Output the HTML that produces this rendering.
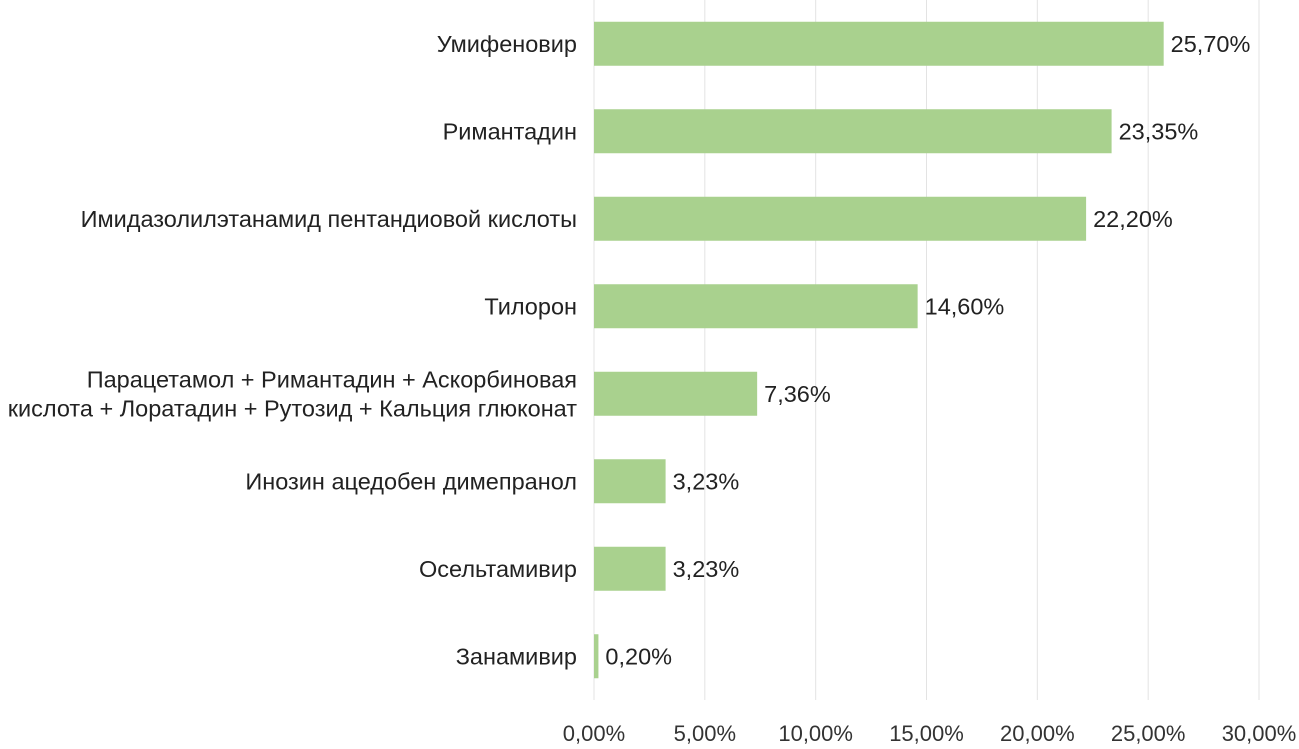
<!DOCTYPE html>
<html><head><meta charset="utf-8"><style>
html,body{margin:0;padding:0;background:#fff;}
svg{display:block;font-family:"Liberation Sans",sans-serif;}
</style></head><body>
<svg id="chart" width="1299" height="749"></svg>
<script>
const categories=["Умифеновир","Римантадин","Имидазолилэтанамид пентандиовой кислоты","Тилорон",["Парацетамол + Римантадин + Аскорбиновая","кислота + Лоратадин + Рутозид + Кальция глюконат"],"Инозин ацедобен димепранол","Осельтамивир","Занамивир"];
const values=[25.70,23.35,22.20,14.60,7.36,3.23,3.23,0.20];
const valueLabels=["25,70%","23,35%","22,20%","14,60%","7,36%","3,23%","3,23%","0,20%"];
const ticks=[0,5,10,15,20,25,30];
const tickLabels=["0,00%","5,00%","10,00%","15,00%","20,00%","25,00%","30,00%"];
const NS="http://www.w3.org/2000/svg";
const svgEl=document.getElementById('chart');
const x0=594,x1=1259,plotTop=0,plotBottom=700;
const xs=v=>x0+(v/30)*(x1-x0);
const band=(plotBottom-plotTop)/categories.length;
const yc=i=>plotTop+band*(i+0.5);
function mk(t,a){const e=document.createElementNS(NS,t);for(const k in a)e.setAttribute(k,a[k]);svgEl.appendChild(e);return e;}
ticks.forEach((t,i)=>{
 const g=mk('line',{x1:xs(t),x2:xs(t),y1:plotTop,y2:plotBottom,stroke:'#e3e3e3','stroke-width':1});
 
 
 const l=mk('text',{x:xs(t),y:741,'text-anchor':'middle','font-size':22,fill:'#333'});
 l.textContent=tickLabels[i];
 
 
});
categories.forEach((c,i)=>{
 const y=yc(i),h=44;
 const b=mk('rect',{x:x0,y:y-h/2,width:xs(values[i])-x0,height:h,fill:'#a9d18e'});
 
 
 const v=mk('text',{x:xs(values[i])+7,y:y+8,'font-size':23.5,fill:'#222'});
 v.textContent=valueLabels[i];
 
 
 const lines=Array.isArray(c)?c:[c];
 lines.forEach((s,j)=>{
  const t=mk('text',{x:577,y:y+8+(j-(lines.length-1)/2)*29,'text-anchor':'end','font-size':23.5,fill:'#222'});
  t.textContent=s;
  
  
 });
});
</script>
</body></html>
